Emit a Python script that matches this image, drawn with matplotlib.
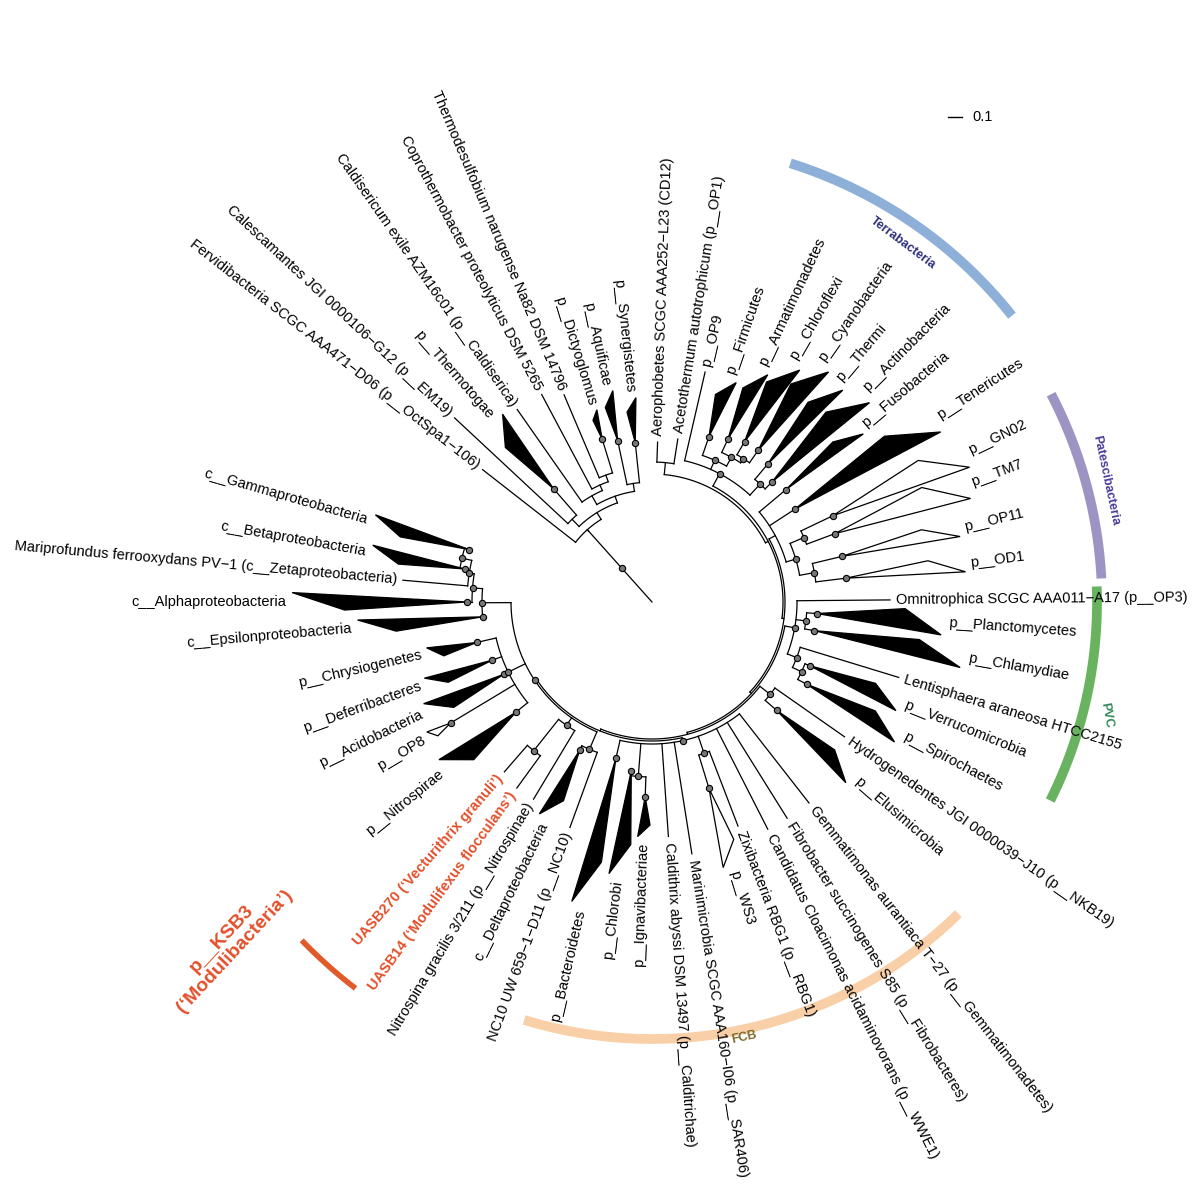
import numpy as np
import matplotlib.pyplot as plt
from matplotlib.patches import Polygon

plt.rcParams['font.family'] = ['Liberation Sans', 'DejaVu Sans']

# leaves, clockwise from top (angles in degrees, counterclockwise from east)
leaf_names = [
    "Aerophobetes SCGC AAA252−L23 (CD12)", "Acetothermum autotrophicum (p__OP1)",
    "p__OP9", "p__Firmicutes", "p__Armatimonadetes", "p__Chloroflexi", "p__Cyanobacteria",
    "p__Thermi", "p__Actinobacteria", "p__Fusobacteria", "p__Tenericutes",
    "p__GN02", "p__TM7", "p__OP11", "p__OD1",
    "Omnitrophica SCGC AAA011−A17 (p__OP3)", "p__Planctomycetes", "p__Chlamydiae",
    "Lentisphaera araneosa HTCC2155", "p__Verrucomicrobia", "p__Spirochaetes",
    "Hydrogenedentes JGI 0000039−J10 (p__NKB19)", "p__Elusimicrobia",
    "Gemmatimonas aurantiaca T−27 (p__Gemmatimonadetes)",
    "Fibrobacter succinogenes S85 (p__Fibrobacteres)",
    "Candidatus Cloacimonas acidaminovorans (p__WWE1)",
    "Zixibacteria RBG1 (p__RBG1)", "p__WS3", "Marinimicrobia SCGC AAA160−I06 (p__SAR406)",
    "Caldithrix abyssi DSM 13497 (p__Calditrichae)", "p__Ignavibacteriae", "p__Chlorobi",
    "p__Bacteroidetes", "NC10 UW 659−1−D11 (p__NC10)", "c__Deltaproteobacteria",
    "Nitrospina gracilis 3/211 (p__Nitrospinae)",
    "UASB14 (‘Modulifexus flocculans’)", "UASB270 (‘Vecturithrix granuli’)",
    "p__Nitrospirae", "p__OP8", "p__Acidobacteria", "p__Deferribacteres",
    "p__Chrysiogenetes", "c__Epsilonproteobacteria", "c__Alphaproteobacteria",
    "Mariprofundus ferrooxydans PV−1 (c__Zetaproteobacteria)",
    "c__Betaproteobacteria", "c__Gammaproteobacteria",
    "Fervidibacteria SCGC AAA471−D06 (p__OctSpa1−106)",
    "Calescamantes JGI 0000106−G12 (p__EM19)", "p__Thermotogae",
    "Caldisericum exile AZM16c01 (p__Caldiserica)",
    "Coprothermobacter proteolyticus DSM 5265",
    "Thermodesulfobium narugense Na82 DSM 14796",
    "p__Dictyoglomus", "p__Aquificae", "p__Synergistetes",
]
leaf_angles = [88, 81, 77, 71, 65, 60, 55, 50, 45, 40, 33, 25.5, 20.5, 13.5, 7,
               0.5, -4, -10, -17, -22, -28, -35, -41, -52, -58, -63, -69, -73, -81,
               -86, -92, -97, -103, -110, -116, -121, -126, -131, -141, -149, -154,
               -160, -167, -175, -180, -185, -190, -196,
               142, 137, 131, 125, 118, 113, 107, 102, 96]
leaf_tips = [160, 165, 236, 235, 255, 275, 290, 285, 295, 270, 335, 345, 335, 315, 315,
             238, 291, 315, 258, 267, 280, 235, 265, 255, 255, 255, 240, 275, 255,
             235, 235, 275, 310, 240, 240, 230, 230, 225, 265, 260, 250, 240, 230,
             295, 360, 250, 285, 290, 215, 270, 240, 235, 235, 225, 200, 215, 205]
leaf_kinds = ['l', 'l', 'l', 't', 't', 't', 't', 't', 't', 't', 't', 'o', 'o', 'o', 'o',
              'l', 't', 't', 'l', 't', 't', 'l', 't', 'l', 'l', 'l', 'l', 'o', 'l',
              'l', 't', 't', 't', 'l', 't', 'l', 'l', 'l', 't', 'o', 't', 't', 't',
              't', 't', 'l', 't', 't', 'l', 'l', 't', 'l', 'l', 'l', 't', 't', 't']
tri_bases = {3: 175, 4: 180, 5: 185, 6: 185, 7: 180, 8: 170, 9: 175, 10: 170,
             11: 200, 12: 195, 13: 195, 14: 195, 16: 165, 17: 165, 19: 170, 20: 175,
             22: 165, 27: 195, 30: 195, 31: 170, 32: 160, 34: 165, 38: 175, 39: 235,
             40: 165, 41: 170, 42: 180, 43: 170, 44: 185, 46: 190, 47: 190,
             50: 150, 54: 170, 55: 165, 56: 160}
tri_widths = {3: 4, 4: 4, 5: 5, 6: 5, 7: 4, 8: 5, 9: 3, 10: 5, 11: 5, 12: 5, 13: 3,
              14: 3, 16: 5, 17: 4, 19: 4, 20: 4, 22: 4, 27: 4, 30: 3, 31: 4, 32: 4,
              34: 4, 38: 5, 39: 2, 40: 4, 41: 3, 42: 3, 43: 3, 44: 3, 46: 3, 47: 3,
              50: 5, 54: 2, 55: 3, 56: 3}
orange_leaves = [36, 37]

# tree topology: (node radius, children)
tree_T = (97, [48, (105, [(115, [49, 50]),
                          (112, [(122, [51, (128, [52, (135, [53, 54])])]), (120, [55, 56])])])])
tree_B = (128, [(140, [0, 1]),
                (131, [(145, [2, (155, [3, (165, [4, (170, [5, 6])])]), (160, [7, 8])]),
                       (133, [(140, [9, 10, (150, [(165, [11, 12]), (165, [13, 14])])]),
                              (135, [(145, [15, (155, [16, 17]), (155, [18, (165, [19, 20])])]),
                                     (137, [(150, [21, 22]),
                                            (139, [(142, [23, 24, 25, (160, [26, 27]), 28, 29,
                                                          (175, [30, 31]), 32]),
                                                   (141, [(160, [33, 34]),
                                                          (150, [35, (190, [36, 37])]),
                                                          (160, [38, 39, 40, 41, 42]),
                                                          (170, [43, (180, [44, (185, [45, (195, [46, 47])])])])])])])])])])])

# clade arcs
clade_names = ["Terrabacteria", "Patescibacteria", "PVC", "FCB"]
clade_from = [72.5, 27.5, 2, -45.5]
clade_to = [38.5, 3, -26.5, -107]
clade_radius = [460, 450, 445, 437]
clade_colors = ['#8eb0d8', '#9d94c3', '#69b360', '#f9cfa7']
clade_text_colors = ['#2d2f7a', '#4a3d98', '#2f8a5a', '#7b6a2a']
clade_label_pos = [(55, 438), (15, 470), (-14, 468), (-78, 445)]
clade_label_rot = [-37, -78, -80, 12]

cx, cy = 652, 602
fig = plt.figure(figsize=(12, 11.96), dpi=100)
ax = fig.add_axes([0, 0, 1, 1])
ax.set_xlim(0, 1200)
ax.set_ylim(1196, 0)
ax.axis('off')


def pt(a, r):
    t = np.radians(a)
    return cx + r * np.cos(t), cy - r * np.sin(t)


def dot(a, r):
    x, y = pt(a, r)
    ax.plot(x, y, 'o', ms=4.5, mfc='#777777', mec='black', mew=0.8, zorder=5)


def draw(node, parent_r):
    if isinstance(node, int):
        a = leaf_angles[node]
        kind = leaf_kinds[node]
        end = tri_bases.get(node, leaf_tips[node])
        x0, y0 = pt(a, parent_r)
        x1, y1 = pt(a, end)
        ax.plot([x0, x1], [y0, y1], color='black', lw=0.9)
        if kind != 'l':
            w = tri_widths[node]
            tip = leaf_tips[node]
            p = [pt(a, end), pt(a - w / 2, tip), pt(a + w / 2, tip - 0.3 * (tip - end))]
            ax.add_patch(Polygon(p, closed=True, fc='black' if kind == 't' else 'white',
                                 ec='black', lw=0.9, zorder=3))
            dot(a, end)
        return a
    r, kids = node
    angs = [draw(k, r) for k in kids]
    th = np.linspace(min(angs), max(angs), 100)
    xs, ys = pt(th, r)
    ax.plot(xs, ys, color='black', lw=0.9)
    a = (min(angs) + max(angs)) / 2
    x0, y0 = pt(a, parent_r)
    x1, y1 = pt(a, r)
    ax.plot([x0, x1], [y0, y1], color='black', lw=0.9)
    if r > 140:
        dot(a, r)
    return a


aT = draw(tree_T, 95)
aB = draw(tree_B, 128)
ax.plot(*zip(pt(aT, 0), pt(aT, 97)), color='black', lw=0.9)
dot(aT, 45)

# leaf labels
for i, name in enumerate(leaf_names):
    a = leaf_angles[i]
    x, y = pt(a, leaf_tips[i] + 6)
    c = np.cos(np.radians(a))
    rot = a if c >= 0 else a + 180
    ha = 'left' if c >= 0 else 'right'
    if i in orange_leaves:
        ax.text(x, y, name, rotation=rot, ha=ha, va='center', rotation_mode='anchor',
                fontsize=10.5, color='#e2502a', fontweight='bold')
    else:
        ax.text(x, y, name, rotation=rot, ha=ha, va='center', rotation_mode='anchor',
                fontsize=10.5, color='black')

# clade arcs
for i, name in enumerate(clade_names):
    th = np.linspace(clade_from[i], clade_to[i], 100)
    ax.plot(*pt(th, clade_radius[i]), color=clade_colors[i], lw=7, solid_capstyle='butt')
    la, lr = clade_label_pos[i]
    x, y = pt(la, lr)
    ax.text(x, y, name, rotation=clade_label_rot[i], ha='center', va='center', fontsize=9,
            fontweight='bold', color=clade_text_colors[i])

# KSB3 bar
th = np.linspace(-136, -127.5, 50)
ax.plot(*pt(th, 487), color='#e05a2a', lw=4, solid_capstyle='butt')
x, y = pt(-141, 545)
ax.text(x, y, "p__KSB3\n(‘Modulibacteria’)", rotation=47, ha='center', va='center',
        fontsize=14, fontweight='bold', color='#e2502a', linespacing=1.1)

# scale bar
ax.plot([948, 962], [117, 117], color='black', lw=1)
ax.text(972, 117, "0.1", ha='left', va='center', fontsize=10.5)

fig.savefig('out.png', dpi=100)
